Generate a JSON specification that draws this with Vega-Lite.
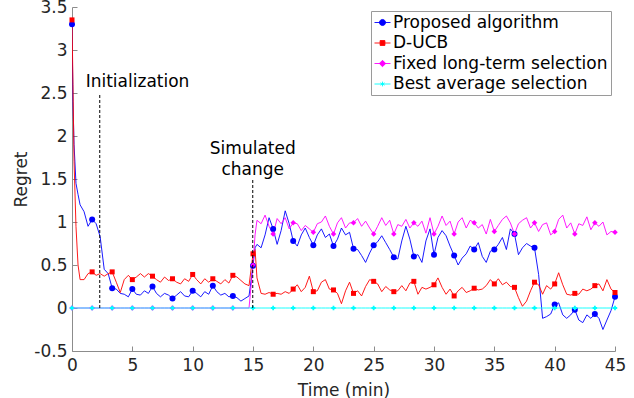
{
  "$schema": "https://vega.github.io/schema/vega-lite/v6.json",
  "width": 543,
  "height": 344,
  "autosize": {"type": "none"},
  "padding": {"left": 72, "top": 7, "right": 19, "bottom": 47},
  "background": "white",
  "config": {
    "view": {"stroke": null},
    "font": "DejaVu Sans",
    "axis": {
      "domainColor": "#8c8c8c",
      "tickColor": "#8c8c8c",
      "tickSize": -5,
      "labelFontSize": 17,
      "labelColor": "#262626",
      "labelFlush": false,
      "titleFontSize": 17,
      "titleFontWeight": "normal",
      "titleColor": "#262626",
      "grid": false,
      "labelFont": "DejaVu Sans",
      "titleFont": "DejaVu Sans"
    }
  },
  "datasets": {
    "series": [
      {"t": 0, "P": 3.3, "D": 3.35, "F": 0, "B": 0},
      {"t": 0.08, "P": 2.4, "D": 2.6, "F": 0, "B": 0},
      {"t": 0.17, "P": 1.9, "D": 1.7, "F": 0, "B": 0},
      {"t": 0.33, "P": 1.45, "D": 0.95, "F": 0, "B": 0},
      {"t": 0.5, "P": 1.32, "D": 0.5, "F": 0, "B": 0},
      {"t": 0.67, "P": 1.2, "D": 0.33, "F": 0, "B": 0},
      {"t": 1, "P": 1.12, "D": 0.33, "F": 0, "B": 0},
      {"t": 1.33, "P": 0.95, "D": 0.4, "F": 0, "B": 0},
      {"t": 1.67, "P": 1.03, "D": 0.42, "F": 0, "B": 0},
      {"t": 2, "P": 0.98, "D": 0.38, "F": 0, "B": 0},
      {"t": 2.33, "P": 0.83, "D": 0.4, "F": 0, "B": 0},
      {"t": 2.67, "P": 0.45, "D": 0.37, "F": 0, "B": 0},
      {"t": 3, "P": 0.4, "D": 0.4, "F": 0, "B": 0},
      {"t": 3.33, "P": 0.23, "D": 0.42, "F": 0, "B": 0},
      {"t": 3.67, "P": 0.22, "D": 0.3, "F": 0, "B": 0},
      {"t": 4, "P": 0.17, "D": 0.18, "F": 0, "B": 0},
      {"t": 4.33, "P": 0.16, "D": 0.33, "F": 0, "B": 0},
      {"t": 4.67, "P": 0.13, "D": 0.38, "F": 0, "B": 0},
      {"t": 5, "P": 0.22, "D": 0.33, "F": 0, "B": 0},
      {"t": 5.33, "P": 0.16, "D": 0.36, "F": 0, "B": 0},
      {"t": 5.67, "P": 0.15, "D": 0.4, "F": 0, "B": 0},
      {"t": 6, "P": 0.2, "D": 0.36, "F": 0, "B": 0},
      {"t": 6.33, "P": 0.17, "D": 0.4, "F": 0, "B": 0},
      {"t": 6.67, "P": 0.25, "D": 0.37, "F": 0, "B": 0},
      {"t": 7, "P": 0.17, "D": 0.33, "F": 0, "B": 0},
      {"t": 7.33, "P": 0.13, "D": 0.3, "F": 0, "B": 0},
      {"t": 7.67, "P": 0.17, "D": 0.36, "F": 0, "B": 0},
      {"t": 8, "P": 0.15, "D": 0.32, "F": 0, "B": 0},
      {"t": 8.33, "P": 0.11, "D": 0.34, "F": 0, "B": 0},
      {"t": 8.67, "P": 0.15, "D": 0.3, "F": 0, "B": 0},
      {"t": 9, "P": 0.19, "D": 0.28, "F": 0, "B": 0},
      {"t": 9.33, "P": 0.14, "D": 0.34, "F": 0, "B": 0},
      {"t": 9.67, "P": 0.13, "D": 0.31, "F": 0, "B": 0},
      {"t": 10, "P": 0.2, "D": 0.39, "F": 0, "B": 0},
      {"t": 10.33, "P": 0.17, "D": 0.33, "F": 0, "B": 0},
      {"t": 10.67, "P": 0.13, "D": 0.28, "F": 0, "B": 0},
      {"t": 11, "P": 0.19, "D": 0.34, "F": 0, "B": 0},
      {"t": 11.33, "P": 0.16, "D": 0.3, "F": 0, "B": 0},
      {"t": 11.67, "P": 0.26, "D": 0.34, "F": 0, "B": 0},
      {"t": 12, "P": 0.19, "D": 0.31, "F": 0, "B": 0},
      {"t": 12.33, "P": 0.15, "D": 0.28, "F": 0, "B": 0},
      {"t": 12.67, "P": 0.17, "D": 0.33, "F": 0, "B": 0},
      {"t": 13, "P": 0.13, "D": 0.29, "F": 0, "B": 0},
      {"t": 13.33, "P": 0.14, "D": 0.38, "F": 0, "B": 0},
      {"t": 13.67, "P": 0.12, "D": 0.36, "F": 0, "B": 0},
      {"t": 14, "P": 0.08, "D": 0.32, "F": 0, "B": 0},
      {"t": 14.33, "P": 0.11, "D": 0.28, "F": 0, "B": 0},
      {"t": 14.67, "P": 0.14, "D": 0.26, "F": 0, "B": 0},
      {"t": 15, "P": 0.49, "D": 0.63, "F": 0.5, "B": 0},
      {"t": 15.17, "P": 0.7, "D": 0.68, "F": 0.85, "B": 0},
      {"t": 15.33, "P": 0.74, "D": 0.35, "F": 1.02, "B": 0},
      {"t": 15.67, "P": 0.7, "D": 0.17, "F": 0.98, "B": 0},
      {"t": 16, "P": 0.85, "D": 0.16, "F": 1.08, "B": 0},
      {"t": 16.33, "P": 1.05, "D": 0.18, "F": 0.95, "B": 0},
      {"t": 16.67, "P": 0.92, "D": 0.16, "F": 0.86, "B": 0},
      {"t": 17, "P": 0.74, "D": 0.17, "F": 1.04, "B": 0},
      {"t": 17.33, "P": 0.9, "D": 0.16, "F": 0.98, "B": 0},
      {"t": 17.67, "P": 1.13, "D": 0.19, "F": 1.05, "B": 0},
      {"t": 18, "P": 0.98, "D": 0.17, "F": 0.92, "B": 0},
      {"t": 18.33, "P": 0.78, "D": 0.22, "F": 0.99, "B": 0},
      {"t": 18.67, "P": 0.72, "D": 0.27, "F": 0.98, "B": 0},
      {"t": 19, "P": 0.85, "D": 0.19, "F": 0.9, "B": 0},
      {"t": 19.33, "P": 0.93, "D": 0.24, "F": 0.96, "B": 0},
      {"t": 19.67, "P": 0.82, "D": 0.37, "F": 0.92, "B": 0},
      {"t": 20, "P": 0.73, "D": 0.19, "F": 0.88, "B": 0},
      {"t": 20.33, "P": 0.85, "D": 0.2, "F": 0.98, "B": 0},
      {"t": 20.67, "P": 0.92, "D": 0.3, "F": 1.0, "B": 0},
      {"t": 21, "P": 0.82, "D": 0.33, "F": 1.07, "B": 0},
      {"t": 21.33, "P": 0.86, "D": 0.22, "F": 0.95, "B": 0},
      {"t": 21.67, "P": 0.72, "D": 0.21, "F": 0.86, "B": 0},
      {"t": 22, "P": 0.8, "D": 0.17, "F": 0.99, "B": 0},
      {"t": 22.33, "P": 0.93, "D": 0.05, "F": 1.05, "B": 0},
      {"t": 22.67, "P": 0.85, "D": 0.2, "F": 0.93, "B": 0},
      {"t": 23, "P": 0.88, "D": 0.3, "F": 0.99, "B": 0},
      {"t": 23.33, "P": 0.69, "D": 0.17, "F": 0.99, "B": 0},
      {"t": 23.67, "P": 0.68, "D": 0.2, "F": 1.04, "B": 0},
      {"t": 24, "P": 0.61, "D": 0.14, "F": 0.95, "B": 0},
      {"t": 24.33, "P": 0.53, "D": 0.25, "F": 1.01, "B": 0},
      {"t": 24.67, "P": 0.64, "D": 0.33, "F": 0.93, "B": 0},
      {"t": 25, "P": 0.73, "D": 0.31, "F": 0.86, "B": 0},
      {"t": 25.33, "P": 0.77, "D": 0.28, "F": 0.95, "B": 0},
      {"t": 25.67, "P": 0.84, "D": 0.19, "F": 1.05, "B": 0},
      {"t": 26, "P": 0.76, "D": 0.25, "F": 0.96, "B": 0},
      {"t": 26.33, "P": 0.68, "D": 0.21, "F": 1.02, "B": 0},
      {"t": 26.67, "P": 0.59, "D": 0.19, "F": 0.86, "B": 0},
      {"t": 27, "P": 0.57, "D": 0.2, "F": 0.97, "B": 0},
      {"t": 27.33, "P": 0.78, "D": 0.26, "F": 0.95, "B": 0},
      {"t": 27.67, "P": 0.95, "D": 0.2, "F": 1.03, "B": 0},
      {"t": 28, "P": 0.8, "D": 0.29, "F": 0.93, "B": 0},
      {"t": 28.33, "P": 0.6, "D": 0.31, "F": 0.99, "B": 0},
      {"t": 28.67, "P": 0.62, "D": 0.16, "F": 0.95, "B": 0},
      {"t": 29, "P": 0.53, "D": 0.24, "F": 1.01, "B": 0},
      {"t": 29.33, "P": 0.78, "D": 0.22, "F": 0.87, "B": 0},
      {"t": 29.67, "P": 0.92, "D": 0.24, "F": 1.05, "B": 0},
      {"t": 30, "P": 0.62, "D": 0.27, "F": 0.86, "B": 0},
      {"t": 30.33, "P": 0.82, "D": 0.35, "F": 0.95, "B": 0},
      {"t": 30.67, "P": 0.9, "D": 0.24, "F": 1.07, "B": 0},
      {"t": 31, "P": 0.84, "D": 0.16, "F": 0.96, "B": 0},
      {"t": 31.33, "P": 0.72, "D": 0.22, "F": 1.01, "B": 0},
      {"t": 31.67, "P": 0.61, "D": 0.14, "F": 0.86, "B": 0},
      {"t": 32, "P": 0.5, "D": 0.2, "F": 1.0, "B": 0},
      {"t": 32.33, "P": 0.58, "D": 0.24, "F": 1.05, "B": 0},
      {"t": 32.67, "P": 0.63, "D": 0.18, "F": 0.93, "B": 0},
      {"t": 33, "P": 0.72, "D": 0.2, "F": 1.02, "B": 0},
      {"t": 33.33, "P": 0.68, "D": 0.23, "F": 0.99, "B": 0},
      {"t": 33.67, "P": 0.76, "D": 0.21, "F": 0.93, "B": 0},
      {"t": 34, "P": 0.6, "D": 0.22, "F": 0.97, "B": 0},
      {"t": 34.33, "P": 0.53, "D": 0.26, "F": 0.86, "B": 0},
      {"t": 34.67, "P": 0.66, "D": 0.33, "F": 1.03, "B": 0},
      {"t": 35, "P": 0.68, "D": 0.28, "F": 0.89, "B": 0},
      {"t": 35.33, "P": 0.74, "D": 0.34, "F": 0.96, "B": 0},
      {"t": 35.67, "P": 0.82, "D": 0.27, "F": 1.03, "B": 0},
      {"t": 36, "P": 0.68, "D": 0.3, "F": 1.07, "B": 0},
      {"t": 36.33, "P": 0.92, "D": 0.25, "F": 0.99, "B": 0},
      {"t": 36.67, "P": 0.86, "D": 0.24, "F": 0.86, "B": 0},
      {"t": 37, "P": 0.62, "D": 0.12, "F": 0.98, "B": 0},
      {"t": 37.33, "P": 0.7, "D": 0.02, "F": 1.02, "B": 0},
      {"t": 37.67, "P": 0.75, "D": 0.08, "F": 1.05, "B": 0},
      {"t": 38, "P": 0.72, "D": 0.2, "F": 0.93, "B": 0},
      {"t": 38.33, "P": 0.7, "D": 0.3, "F": 0.99, "B": 0},
      {"t": 38.67, "P": 0.39, "D": 0.27, "F": 0.89, "B": 0},
      {"t": 39, "P": -0.12, "D": 0.16, "F": 0.97, "B": 0},
      {"t": 39.33, "P": -0.1, "D": 0.26, "F": 0.99, "B": 0},
      {"t": 39.67, "P": -0.07, "D": 0.22, "F": 0.85, "B": 0},
      {"t": 40, "P": 0.04, "D": 0.28, "F": 0.89, "B": 0},
      {"t": 40.33, "P": 0.06, "D": 0.41, "F": 1.03, "B": 0},
      {"t": 40.67, "P": -0.08, "D": 0.27, "F": 1.08, "B": 0},
      {"t": 41, "P": -0.12, "D": 0.16, "F": 0.93, "B": 0},
      {"t": 41.33, "P": -0.08, "D": 0.15, "F": 0.99, "B": 0},
      {"t": 41.67, "P": -0.02, "D": 0.17, "F": 0.86, "B": 0},
      {"t": 42, "P": -0.14, "D": 0.16, "F": 0.98, "B": 0},
      {"t": 42.33, "P": -0.17, "D": 0.22, "F": 0.96, "B": 0},
      {"t": 42.67, "P": -0.08, "D": 0.2, "F": 1.06, "B": 0},
      {"t": 43, "P": -0.12, "D": 0.22, "F": 0.91, "B": 0},
      {"t": 43.33, "P": -0.07, "D": 0.26, "F": 0.99, "B": 0},
      {"t": 43.67, "P": -0.12, "D": 0.28, "F": 0.95, "B": 0},
      {"t": 44, "P": -0.25, "D": 0.2, "F": 1.0, "B": 0},
      {"t": 44.33, "P": -0.14, "D": 0.33, "F": 0.85, "B": 0},
      {"t": 44.67, "P": -0.03, "D": 0.22, "F": 0.89, "B": 0},
      {"t": 45, "P": 0.13, "D": 0.18, "F": 0.88, "B": 0}
    ],
    "notes": [
      {"t": 5.43, "v": 2.57, "label": "Initialization"},
      {"t": 14.98, "v": 1.79, "label": "Simulated"},
      {"t": 14.98, "v": 1.55, "label": "change"}
    ],
    "guides": [
      {"t": 2.3, "v0": 0, "v1": 2.49},
      {"t": 14.98, "v0": 0, "v1": 1.5}
    ]
  },
  "layer": [
    {
      "data": {"name": "series"},
      "transform": [{"fold": ["P", "D", "F", "B"], "as": ["key", "value"]}],
      "mark": {"type": "line", "clip": true},
      "encoding": {
        "x": {
          "field": "t", "type": "quantitative",
          "scale": {"domain": [0, 45], "nice": false, "zero": false},
          "axis": {"values": [0, 5, 10, 15, 20, 25, 30, 35, 40, 45], "title": "Time (min)", "labelPadding": 11, "titlePadding": 9}
        },
        "y": {
          "field": "value", "type": "quantitative",
          "scale": {"domain": [-0.5, 3.5], "nice": false, "zero": false},
          "axis": {"values": [-0.5, 0, 0.5, 1, 1.5, 2, 2.5, 3, 3.5], "labelExpr": "datum.value + ''", "title": "Regret", "labelPadding": 10, "titlePadding": 3}
        },
        "strokeWidth": {
          "field": "key", "type": "nominal",
          "scale": {"domain": ["P", "D", "F", "B"], "range": [0.9, 0.9, 0.9, 1.6]},
          "legend": null
        },
        "color": {
          "field": "key", "type": "nominal",
          "scale": {"domain": ["P", "D", "F", "B"], "range": ["#0000ff", "#ff0000", "#ff00ff", "#00ffff"]},
          "legend": {
            "orient": "top-right",
            "offset": 4,
            "title": null,
            "labelFontSize": 17,
            "labelFont": "DejaVu Sans",
            "labelColor": "black",
            "labelLimit": 400,
            "symbolSize": 256,
            "strokeColor": "#9a9a9a",
            "fillColor": "white",
            "padding": 3,
            "rowPadding": 2.5,
            "labelOffset": 2,
            "labelExpr": "datum.value === 'P' ? 'Proposed algorithm' : datum.value === 'D' ? 'D-UCB' : datum.value === 'F' ? 'Fixed long-term selection' : 'Best average selection'",
            "encoding": {
              "symbols": {
                "shape": {"value": {"expr": "datum.value === 'P' ? 'M-1,0H1M0.38,0A0.38,0.38,0,1,1,-0.38,0A0.38,0.38,0,1,1,0.38,0Z' : datum.value === 'D' ? 'M-1,0H1M-0.3,-0.3H0.3V0.3H-0.3Z' : datum.value === 'F' ? 'M-1,0H1M0,-0.4L0.4,0L0,0.4L-0.4,0Z' : 'M-1,0H1M0,-0.3V0.3M-0.26,-0.15L0.26,0.15M-0.26,0.15L0.26,-0.15'"}},
                "fill": {"value": {"expr": "datum.value === 'P' ? '#0000ff' : datum.value === 'D' ? '#ff0000' : datum.value === 'F' ? '#ff00ff' : '#00ffff'"}},
                "stroke": {"value": {"expr": "datum.value === 'P' ? '#0000ff' : datum.value === 'D' ? '#ff0000' : datum.value === 'F' ? '#ff00ff' : '#00ffff'"}},
                "size": {"value": 256},
                "strokeWidth": {"value": 1},
                "opacity": {"value": 1}
              }
            }
          }
        }
      }
    },
    {
      "data": {"name": "series"},
      "transform": [
        {"filter": "abs(datum.t * 0.6 - round(datum.t * 0.6)) < 0.02"},
        {"fold": ["P"], "as": ["key", "value"]}
      ],
      "mark": {"type": "point", "filled": true, "opacity": 1, "strokeWidth": 0, "shape": "circle", "size": 36},
      "encoding": {
        "x": {"field": "t", "type": "quantitative"},
        "y": {"field": "value", "type": "quantitative"},
        "color": {"field": "key", "type": "nominal"}
      }
    },
    {
      "data": {"name": "series"},
      "transform": [
        {"filter": "abs(datum.t * 0.6 - round(datum.t * 0.6)) < 0.02"},
        {"fold": ["D"], "as": ["key", "value"]}
      ],
      "mark": {"type": "point", "filled": true, "opacity": 1, "strokeWidth": 0, "shape": "square", "size": 25},
      "encoding": {
        "x": {"field": "t", "type": "quantitative"},
        "y": {"field": "value", "type": "quantitative"},
        "color": {"field": "key", "type": "nominal"}
      }
    },
    {
      "data": {"name": "series"},
      "transform": [
        {"filter": "abs(datum.t * 0.6 - round(datum.t * 0.6)) < 0.02"},
        {"fold": ["F"], "as": ["key", "value"]}
      ],
      "mark": {"type": "point", "filled": true, "opacity": 1, "strokeWidth": 0, "shape": "diamond", "size": 30},
      "encoding": {
        "x": {"field": "t", "type": "quantitative"},
        "y": {"field": "value", "type": "quantitative"},
        "color": {"field": "key", "type": "nominal"}
      }
    },
    {
      "data": {"name": "series"},
      "transform": [
        {"filter": "abs(datum.t * 0.6 - round(datum.t * 0.6)) < 0.02"},
        {"fold": ["B"], "as": ["key", "value"]}
      ],
      "mark": {"type": "point", "filled": true, "opacity": 1, "strokeWidth": 0, "shape": "cross", "size": 20},
      "encoding": {
        "x": {"field": "t", "type": "quantitative"},
        "y": {"field": "value", "type": "quantitative"},
        "color": {"field": "key", "type": "nominal"}
      }
    },
    {
      "data": {"name": "guides"},
      "mark": {"type": "rule", "color": "black", "strokeWidth": 1, "strokeDash": [3, 2]},
      "encoding": {
        "x": {"field": "t", "type": "quantitative"},
        "y": {"field": "v0", "type": "quantitative"},
        "y2": {"field": "v1"}
      }
    },
    {
      "data": {"name": "notes"},
      "mark": {"type": "text", "fontSize": 17, "font": "DejaVu Sans", "align": "center", "baseline": "alphabetic", "color": "black"},
      "encoding": {
        "x": {"field": "t", "type": "quantitative"},
        "y": {"field": "v", "type": "quantitative"},
        "text": {"field": "label"}
      }
    }
  ]
}
